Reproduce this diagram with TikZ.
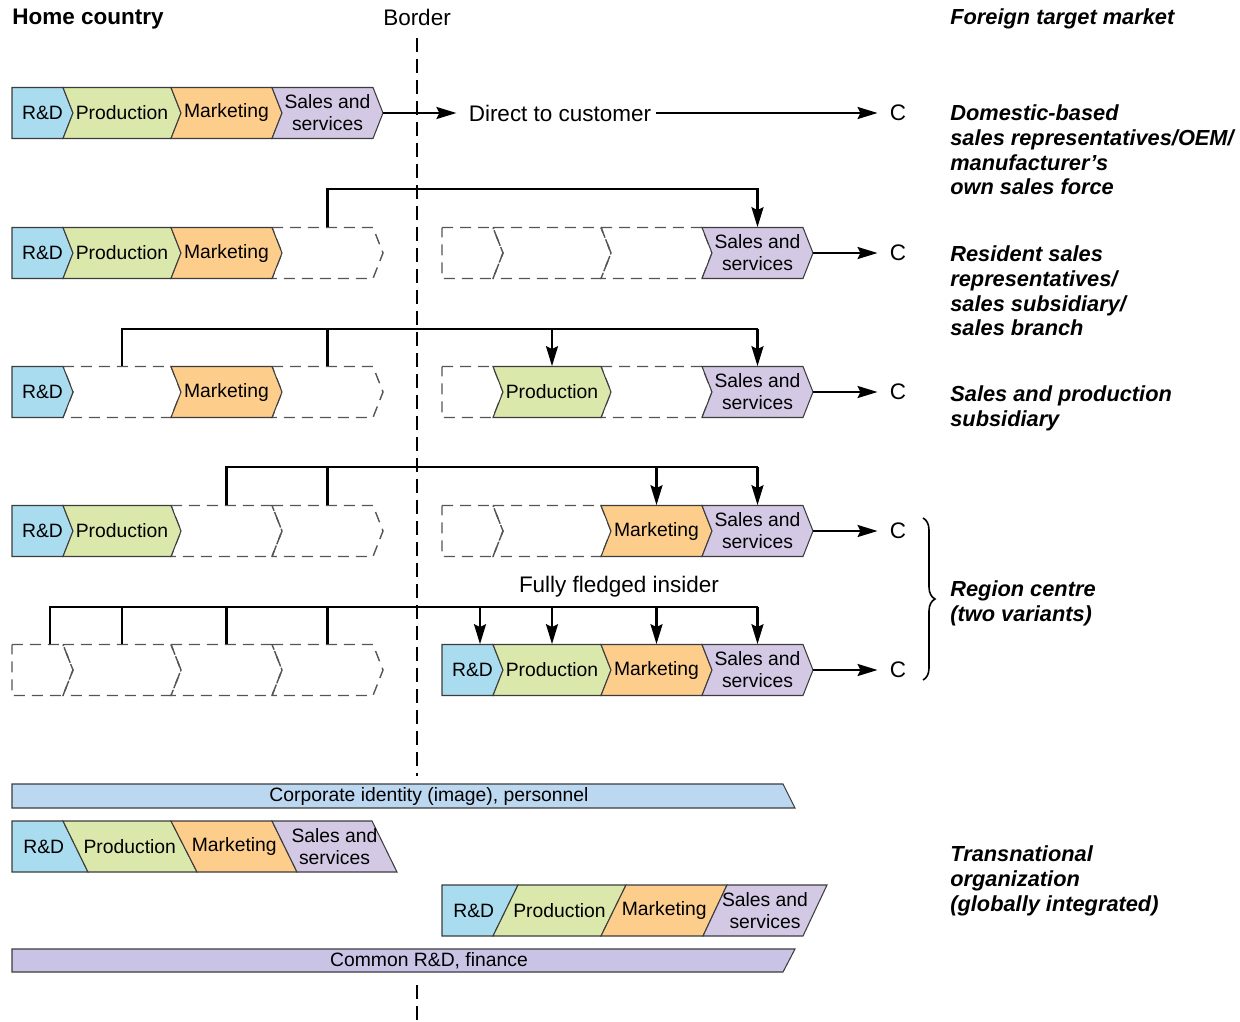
\documentclass[tikz,border=0pt]{standalone}
\usepackage{fontspec}
\setmainfont{Liberation Sans}
\usetikzlibrary{arrows.meta}
\usetikzlibrary{decorations.pathreplacing}

\definecolor{rdblue}{RGB}{170,220,239}
\definecolor{prgreen}{RGB}{219,232,172}
\definecolor{mkorange}{RGB}{253,205,140}
\definecolor{sslilac}{RGB}{212,201,229}
\definecolor{cibar}{RGB}{188,215,240}
\definecolor{crbar}{RGB}{201,196,229}
\definecolor{edge}{RGB}{60,60,60}
\definecolor{ghostgray}{RGB}{85,85,85}

\tikzset{
  seg/.style={inner sep=0, minimum height=1.02cm, align=center,
    font=\fontsize{11}{12.5}\selectfont},
  big/.style={font=\fontsize{12.8}{14.2}\selectfont},
  head/.style={font=\fontsize{12.8}{14.2}\selectfont\bfseries, inner sep=0},
  market/.style={anchor=north west, inner sep=0, align=left,
    font=\fontsize{12.4}{14.2}\selectfont\bfseries\itshape},
  rdseg/.style={fill=rdblue, draw=edge, line width=0.6pt},
  prseg/.style={fill=prgreen, draw=edge, line width=0.6pt},
  mkseg/.style={fill=mkorange, draw=edge, line width=0.6pt},
  ssseg/.style={fill=sslilac, draw=edge, line width=0.6pt},
  ghost/.style={draw=ghostgray, line width=0.8pt, dash pattern=on 0.22cm off 0.14cm},
  link/.style={line width=1.4pt},
  feed/.style={link, -{Stealth[length=0.4cm, width=0.24cm, inset=0.06cm]}},
  cnode/.style={big, inner sep=0.24cm},
  border/.style={line width=1.7pt, dash pattern=on 0.28cm off 0.14cm},
  brace/.style={decorate, decoration={brace, amplitude=0.24cm}, line width=0.9pt}
}

% chevron: [notch] name, style, left x, right x, centre y, text
\newcommand\chev[7][10]{%
  \path[#3] (#4,#6-25.5) -- (#5,#6-25.5) -- (#5+10,#6) -- (#5,#6+25.5)
    -- (#4,#6+25.5) -- (#4+#1,#6) -- cycle;
  \coordinate (#2-tip) at (#5+10,#6);
  \node[seg] (#2) at ({(#4+#5)/2+5},#6) {#7};}

% slanted block: name, style, top left, top right, bottom left, bottom right, top y, text
\newcommand\slab[8]{%
  \path[#2] (#3,#7) -- (#4,#7) -- (#6,#7+51) -- (#5,#7+51) -- cycle;
  \node[seg] (#1) at ({(#3+#4+#5+#6)/4},#7+25.5) {#8};}

\begin{document}
\begin{tikzpicture}[x=0.02cm, y=-0.02cm]
  \useasboundingbox (0,0) rectangle (1240,1021);

  % headings
  \node[head, anchor=base west] (home) at (12,25) {Home country};
  \node[big, anchor=base] (bord) at (417,26) {Border};
  \node[market, anchor=base west] (foreign) at (950,25) {Foreign target market};

  \draw[border] (bord.center |- 0,38) -- (bord.center |- 0,776);
  \draw[border] (bord.center |- 0,985) -- (bord.center |- 0,1021);

  % row 1: direct export
  \chev[0]{h1rd}{rdseg}{12}{63}{113}{R\&D}
  \chev{h1pr}{prseg}{63}{171}{113}{Production}
  \chev{h1mk}{mkseg}{171}{272}{113}{Marketing}
  \chev{h1ss}{ssseg}{272}{373}{113}{Sales and\\services}
  \node[big, inner sep=0.08cm] (dtc) at (560,113) {Direct to customer};
  \node[cnode] (c1) at (898,113) {C};
  \draw[feed] (h1ss-tip) -- ([xshift=-0.16cm]dtc.west);
  \draw[feed] (dtc.east) -- (c1);
  \node[market] (m1) at (950,104) {Domestic-based\\sales representatives/OEM/\\manufacturer’s\\own sales force};

  % row 2: sales abroad
  \chev{h2ss}{ghost}{272}{373}{253}{}
  \chev[0]{h2rd}{rdseg}{12}{63}{253}{R\&D}
  \chev{h2pr}{prseg}{63}{171}{253}{Production}
  \chev{h2mk}{mkseg}{171}{272}{253}{Marketing}
  \chev[0]{f2rd}{ghost}{442}{493}{253}{}
  \chev{f2pr}{ghost}{493}{601}{253}{}
  \chev{f2mk}{ghost}{601}{702}{253}{}
  \chev{f2ss}{ssseg}{702}{803}{253}{Sales and\\services}
  \node[cnode] (c2) at (898,253) {C};
  \draw[feed] (f2ss-tip) -- (c2);
  \draw[feed] (h2ss.north) -- ++(0,-38) -| (f2ss.north);
  \node[market] (m2) at (950,245) {Resident sales\\representatives/\\sales subsidiary/\\sales branch};

  % row 3: sales and production abroad
  \chev{h3pr}{ghost}{63}{171}{392}{}
  \chev{h3ss}{ghost}{272}{373}{392}{}
  \chev[0]{h3rd}{rdseg}{12}{63}{392}{R\&D}
  \chev{h3mk}{mkseg}{171}{272}{392}{Marketing}
  \chev[0]{f3rd}{ghost}{442}{493}{392}{}
  \chev{f3mk}{ghost}{601}{702}{392}{}
  \chev{f3pr}{prseg}{493}{601}{392}{Production}
  \chev{f3ss}{ssseg}{702}{803}{392}{Sales and\\services}
  \node[cnode] (c3) at (898,392) {C};
  \draw[feed] (f3ss-tip) -- (c3);
  \coordinate (bus3) at (0,329);
  \draw[link] (h3pr.north) |- (f3ss.north |- bus3);
  \draw[link] (h3ss.north) -- (h3ss.north |- bus3);
  \foreach \n in {f3pr,f3ss}
    \draw[feed] (\n.north |- bus3) -- (\n.north);
  \node[market] (m3) at (950,385) {Sales and production\\subsidiary};

  % row 4: marketing and sales abroad
  \chev{h4mk}{ghost}{171}{272}{531}{}
  \chev{h4ss}{ghost}{272}{373}{531}{}
  \chev[0]{h4rd}{rdseg}{12}{63}{531}{R\&D}
  \chev{h4pr}{prseg}{63}{171}{531}{Production}
  \chev[0]{f4rd}{ghost}{442}{493}{531}{}
  \chev{f4pr}{ghost}{493}{601}{531}{}
  \chev{f4mk}{mkseg}{601}{702}{531}{Marketing}
  \chev{f4ss}{ssseg}{702}{803}{531}{Sales and\\services}
  \node[cnode] (c4) at (898,531) {C};
  \draw[feed] (f4ss-tip) -- (c4);
  \coordinate (bus4) at (0,467);
  \draw[link] (h4mk.north) |- (f4ss.north |- bus4);
  \draw[link] (h4ss.north) -- (h4ss.north |- bus4);
  \foreach \n in {f4mk,f4ss}
    \draw[feed] (\n.north |- bus4) -- (\n.north);

  % row 5: fully fledged insider
  \chev[0]{h5rd}{ghost}{12}{63}{670}{}
  \chev{h5pr}{ghost}{63}{171}{670}{}
  \chev{h5mk}{ghost}{171}{272}{670}{}
  \chev{h5ss}{ghost}{272}{373}{670}{}
  \chev[0]{f5rd}{rdseg}{442}{493}{670}{R\&D}
  \chev{f5pr}{prseg}{493}{601}{670}{Production}
  \chev{f5mk}{mkseg}{601}{702}{670}{Marketing}
  \chev{f5ss}{ssseg}{702}{803}{670}{Sales and\\services}
  \node[cnode] (c5) at (898,670) {C};
  \draw[feed] (f5ss-tip) -- (c5);
  \node[big] (ffi) at (619,587) {Fully fledged insider};
  \coordinate (bus5) at (0,607);
  \draw[link] ([xshift=0.15cm]h5rd.north) |- (f5ss.north |- bus5);
  \foreach \n in {h5pr,h5mk,h5ss}
    \draw[link] (\n.north) -- (\n.north |- bus5);
  \draw[feed] ([xshift=0.15cm]f5rd.north |- bus5) -- ([xshift=0.15cm]f5rd.north);
  \foreach \n in {f5pr,f5mk,f5ss}
    \draw[feed] (\n.north |- bus5) -- (\n.north);

  \draw[brace] (923,518) -- (923,680);
  \node[market] (m4) at (950,580) {Region centre\\(two variants)};

  % transnational organization
  \path[fill=cibar, draw=edge, line width=0.6pt] (12,784) -- (783,784) -- (795,808) -- (12,808) -- cycle;
  \node[seg, minimum height=0] (corp) at (429,796) {Corporate identity (image), personnel};

  \slab{t1rd}{rdseg}{12}{63}{12}{88}{821}{R\&D}
  \slab{t1pr}{prseg}{63}{171}{88}{197}{821}{Production}
  \slab{t1mk}{mkseg}{171}{272}{197}{297}{821}{Marketing}
  \slab{t1ss}{ssseg}{272}{372}{297}{397}{821}{Sales and\\services}

  \slab{t2rd}{rdseg}{442}{518}{442}{493}{885}{R\&D}
  \slab{t2pr}{prseg}{518}{626}{493}{601}{885}{Production}
  \slab{t2mk}{mkseg}{626}{727}{601}{703}{885}{Marketing}
  \slab{t2ss}{ssseg}{727}{827}{703}{803}{885}{Sales and\\services}

  \path[fill=crbar, draw=edge, line width=0.6pt] (12,949) -- (795,949) -- (783,972) -- (12,972) -- cycle;
  \node[seg, minimum height=0] (common) at (429,961) {Common R\&D, finance};

  \node[market] (m5) at (950,845) {Transnational\\organization\\(globally integrated)};
\end{tikzpicture}
\end{document}
